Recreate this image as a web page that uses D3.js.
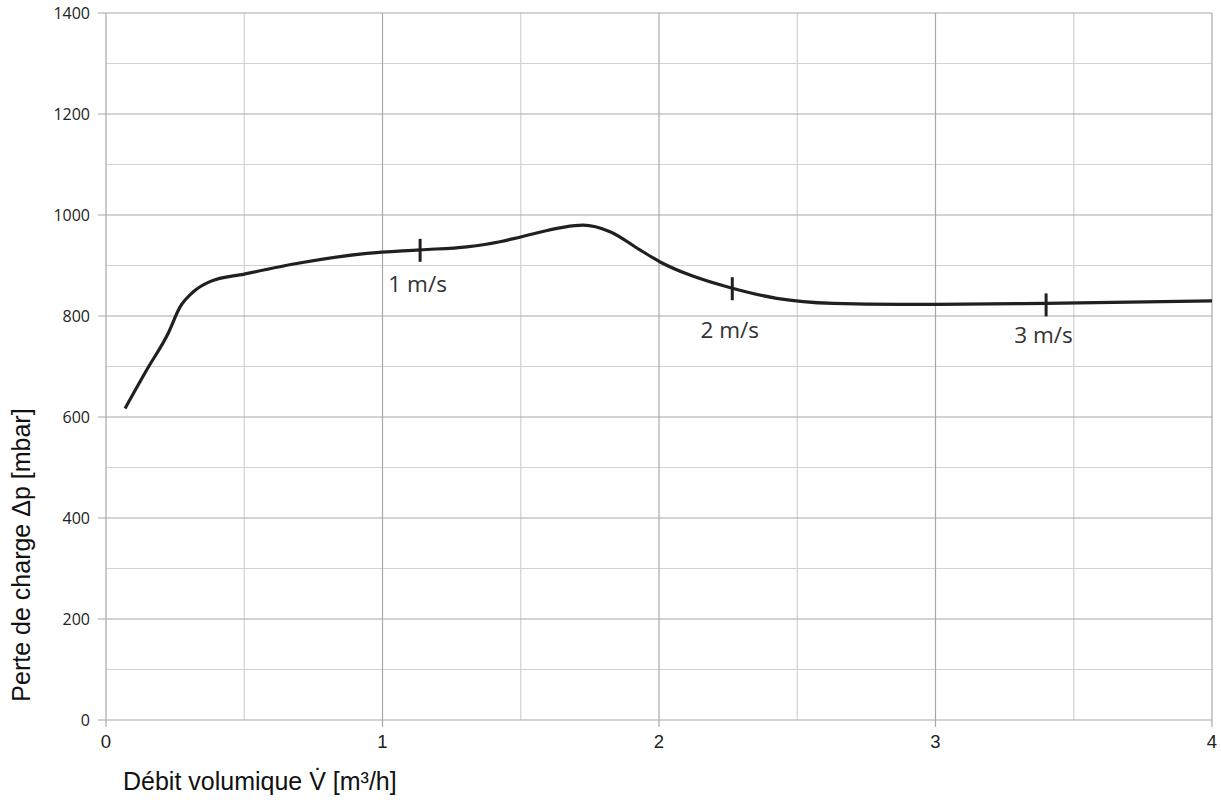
<!DOCTYPE html>
<html>
<head>
<meta charset="utf-8">
<script src="https://cdn.jsdelivr.net/npm/d3@7"></script>
<style>
  body { margin: 0; background: #fff; }
  .ylab text { font-family: "Open Sans", sans-serif; font-size: 16px; fill: #222; }
  .xlab text { font-family: "Liberation Sans", Arial, sans-serif; font-size: 18.5px; fill: #222; }
  .title { font-family: "Liberation Sans", Arial, sans-serif; font-size: 25px; fill: #111; }
  .speed { font-family: "Open Sans", sans-serif; font-size: 22.5px; fill: #333; }
</style>
</head>
<body>
<script>
// flow rate [m3/h] and pressure loss [mbar]
var flow = [0.069, 0.147, 0.225, 0.268, 0.316, 0.376, 0.5, 0.7, 0.943,
    1.136, 1.305, 1.425, 1.503, 1.726, 1.823, 1.931, 2.004, 2.112, 2.265,
    2.426, 2.63, 2.872, 3.004, 3.4, 4.0];
var loss = [617, 693, 766, 818, 848, 868, 883, 905, 924,
    931, 937, 947, 957, 980, 967, 931, 907, 881, 855,
    835, 825, 823, 823, 825, 830];

// velocity marks on the curve
var speedLabels = ["1 m/s", "2 m/s", "3 m/s"];
var speedFlow = [1.136, 2.265, 3.40];
var speedLoss = [931, 855, 823];
var speedLabelLoss = [847, 756, 746];

var xTicks = [0, 1, 2, 3, 4];
var yTicks = [0, 200, 400, 600, 800, 1000, 1200, 1400];
var xMinor = [0.5, 1.5, 2.5, 3.5];
var yMinor = [100, 300, 500, 700, 900, 1100, 1300];

var W = 1221, H = 800;

var svg = d3.select("body").append("svg")
    .attr("width", W)
    .attr("height", H);

var x = d3.scaleLinear().domain([0, 4]).range([106, 1212]);
var y = d3.scaleLinear().domain([0, 1400]).range([720, 13]);

// minor grid
svg.append("g").selectAll("line").data(xMinor).enter().append("line")
    .attr("x1", function(d) { return x(d); })
    .attr("x2", function(d) { return x(d); })
    .attr("y1", y(0)).attr("y2", y(1400))
    .style("stroke", "#d2d2d2").style("stroke-width", 1.2);
svg.append("g").selectAll("line").data(yMinor).enter().append("line")
    .attr("y1", function(d) { return y(d); })
    .attr("y2", function(d) { return y(d); })
    .attr("x1", x(0)).attr("x2", x(4))
    .style("stroke", "#d2d2d2").style("stroke-width", 1.2);

// major grid, ticks poke out of the frame
svg.append("g").selectAll("line").data(xTicks).enter().append("line")
    .attr("x1", function(d) { return x(d); })
    .attr("x2", function(d) { return x(d); })
    .attr("y1", y(0) + 7).attr("y2", y(1400))
    .style("stroke", "#a8a8a8").style("stroke-width", 1.2);
svg.append("g").selectAll("line").data(yTicks).enter().append("line")
    .attr("y1", function(d) { return y(d); })
    .attr("y2", function(d) { return y(d); })
    .attr("x1", x(0) - 8).attr("x2", x(4))
    .style("stroke", "#a8a8a8").style("stroke-width", 1.2);

// tick labels
svg.append("g").attr("class", "ylab")
    .selectAll("text").data(yTicks).enter().append("text")
    .attr("x", 90)
    .attr("y", function(d) { return y(d); })
    .attr("dy", "0.36em")
    .attr("text-anchor", "end")
    .text(function(d) { return d; });

svg.append("g").attr("class", "xlab")
    .selectAll("text").data(xTicks).enter().append("text")
    .attr("x", function(d) { return x(d); })
    .attr("y", 748)
    .attr("text-anchor", "middle")
    .text(function(d) { return d; });

// axis titles
svg.append("text").attr("class", "title")
    .attr("x", 123).attr("y", 790)
    .text("Débit volumique V\u0307 [m³/h]");

svg.append("text").attr("class", "title")
    .attr("transform", "translate(30,555) rotate(-90)")
    .attr("text-anchor", "middle")
    .text("Perte de charge Δp [mbar]");

// curve
var pts = flow.map(function(d, i) { return [d, loss[i]]; });
var line = d3.line()
    .x(function(d) { return x(d[0]); })
    .y(function(d) { return y(d[1]); })
    .curve(d3.curveMonotoneX);

svg.append("path")
    .datum(pts)
    .attr("d", line)
    .style("fill", "none")
    .style("stroke", "#231f20")
    .style("stroke-width", 3.2)
    .style("stroke-linejoin", "round");

// velocity marks
speedLabels.forEach(function(lab, i) {
    var cx = x(speedFlow[i]), cy = y(speedLoss[i]);
    svg.append("line")
        .attr("x1", cx).attr("x2", cx)
        .attr("y1", cy - 11).attr("y2", cy + 12)
        .style("stroke", "#231f20")
        .style("stroke-width", 3);
    svg.append("text").attr("class", "speed")
        .attr("x", cx - 2.5)
        .attr("y", y(speedLabelLoss[i]))
        .attr("text-anchor", "middle")
        .text(lab);
});
</script>
</body>
</html>
